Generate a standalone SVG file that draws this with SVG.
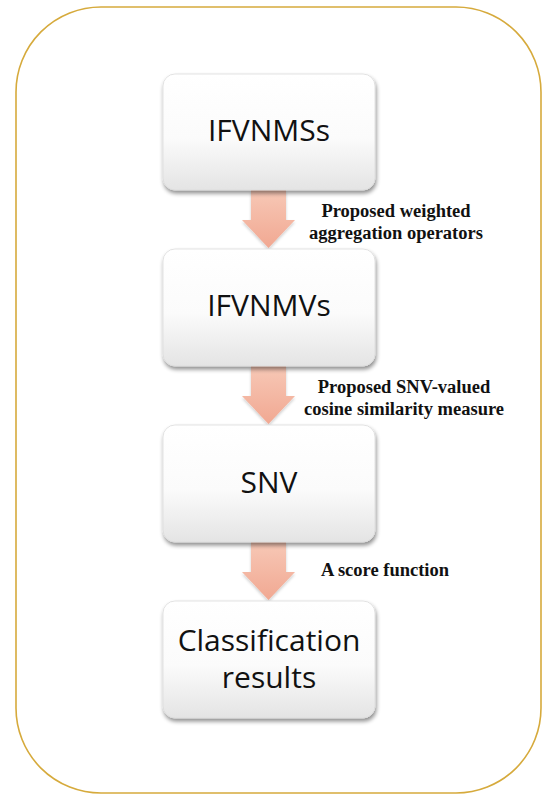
<svg xmlns="http://www.w3.org/2000/svg" width="542" height="794" viewBox="0 0 542 794">
  <defs>
    <linearGradient id="boxFill" x1="0" y1="0" x2="0" y2="1">
      <stop offset="0" stop-color="#ffffff"/>
      <stop offset="0.55" stop-color="#fbfbfb"/>
      <stop offset="1" stop-color="#e4e4e4"/>
    </linearGradient>
    <linearGradient id="arrowFill" x1="0" y1="0" x2="0" y2="1">
      <stop offset="0" stop-color="#f7c8b6"/>
      <stop offset="1" stop-color="#f1a892"/>
    </linearGradient>
    <filter id="shadow" x="-10%" y="-10%" width="125%" height="130%">
      <feGaussianBlur in="SourceAlpha" stdDeviation="2"/>
      <feOffset dx="1" dy="3" result="b"/>
      <feComponentTransfer><feFuncA type="linear" slope="0.45"/></feComponentTransfer>
      <feMerge><feMergeNode/><feMergeNode in="SourceGraphic"/></feMerge>
    </filter>
    <filter id="arrowShadow" x="-20%" y="-20%" width="140%" height="150%">
      <feGaussianBlur in="SourceAlpha" stdDeviation="1.5"/>
      <feOffset dx="0" dy="2"/>
      <feComponentTransfer><feFuncA type="linear" slope="0.2"/></feComponentTransfer>
      <feMerge><feMergeNode/><feMergeNode in="SourceGraphic"/></feMerge>
    </filter>
  </defs>
  <style>
    .frame { fill: #ffffff; stroke: #d6aa3c; stroke-width: 1.6; }
    .box { fill: url(#boxFill); stroke: #dcdcdc; stroke-width: 0.8; filter: url(#shadow); }
    .name { font-family: "Open Sans", "Liberation Sans", sans-serif; font-size: 30px; fill: #111111; text-anchor: middle; }
    .arrow { fill: url(#arrowFill); filter: url(#arrowShadow); }
    .label { font-family: "Liberation Serif", "Times New Roman", serif; font-weight: bold; font-size: 18.5px; fill: #111111; text-anchor: middle; }
  </style>

  <rect class="frame" x="16" y="7" width="525" height="786" rx="85" ry="85"/>

  <!-- flow arrows with their step labels -->
  <g id="connectors">
    <path class="arrow" d="M251 190 H286 V220 H295 L268.5 248 L242 220 H251 Z"/>
    <path class="arrow" d="M251 366 H286 V396 H295 L268.5 424 L242 396 H251 Z"/>
    <path class="arrow" d="M251 542 H286 V572 H295 L268.5 600 L242 572 H251 Z"/>
    <text class="label" x="396" y="217">Proposed weighted</text>
    <text class="label" x="396" y="239">aggregation operators</text>
    <text class="label" x="404" y="393">Proposed SNV-valued</text>
    <text class="label" x="404" y="415">cosine similarity measure</text>
    <text class="label" x="385" y="576">A score function</text>
  </g>

  <g id="ifvnmss">
    <rect class="box" x="163" y="74" width="212" height="116" rx="12"/>
    <text class="name" x="269" y="141">IFVNMSs</text>
  </g>
  <g id="ifvnmvs">
    <rect class="box" x="163" y="249" width="212" height="117" rx="12"/>
    <text class="name" x="269" y="316">IFVNMVs</text>
  </g>
  <g id="snv">
    <rect class="box" x="163" y="425" width="212" height="117" rx="12"/>
    <text class="name" x="269" y="493">SNV</text>
  </g>
  <g id="classification">
    <rect class="box" x="163" y="601" width="212" height="117" rx="12"/>
    <text class="name" x="269" y="651">Classification</text>
    <text class="name" x="269" y="688">results</text>
  </g>
</svg>
